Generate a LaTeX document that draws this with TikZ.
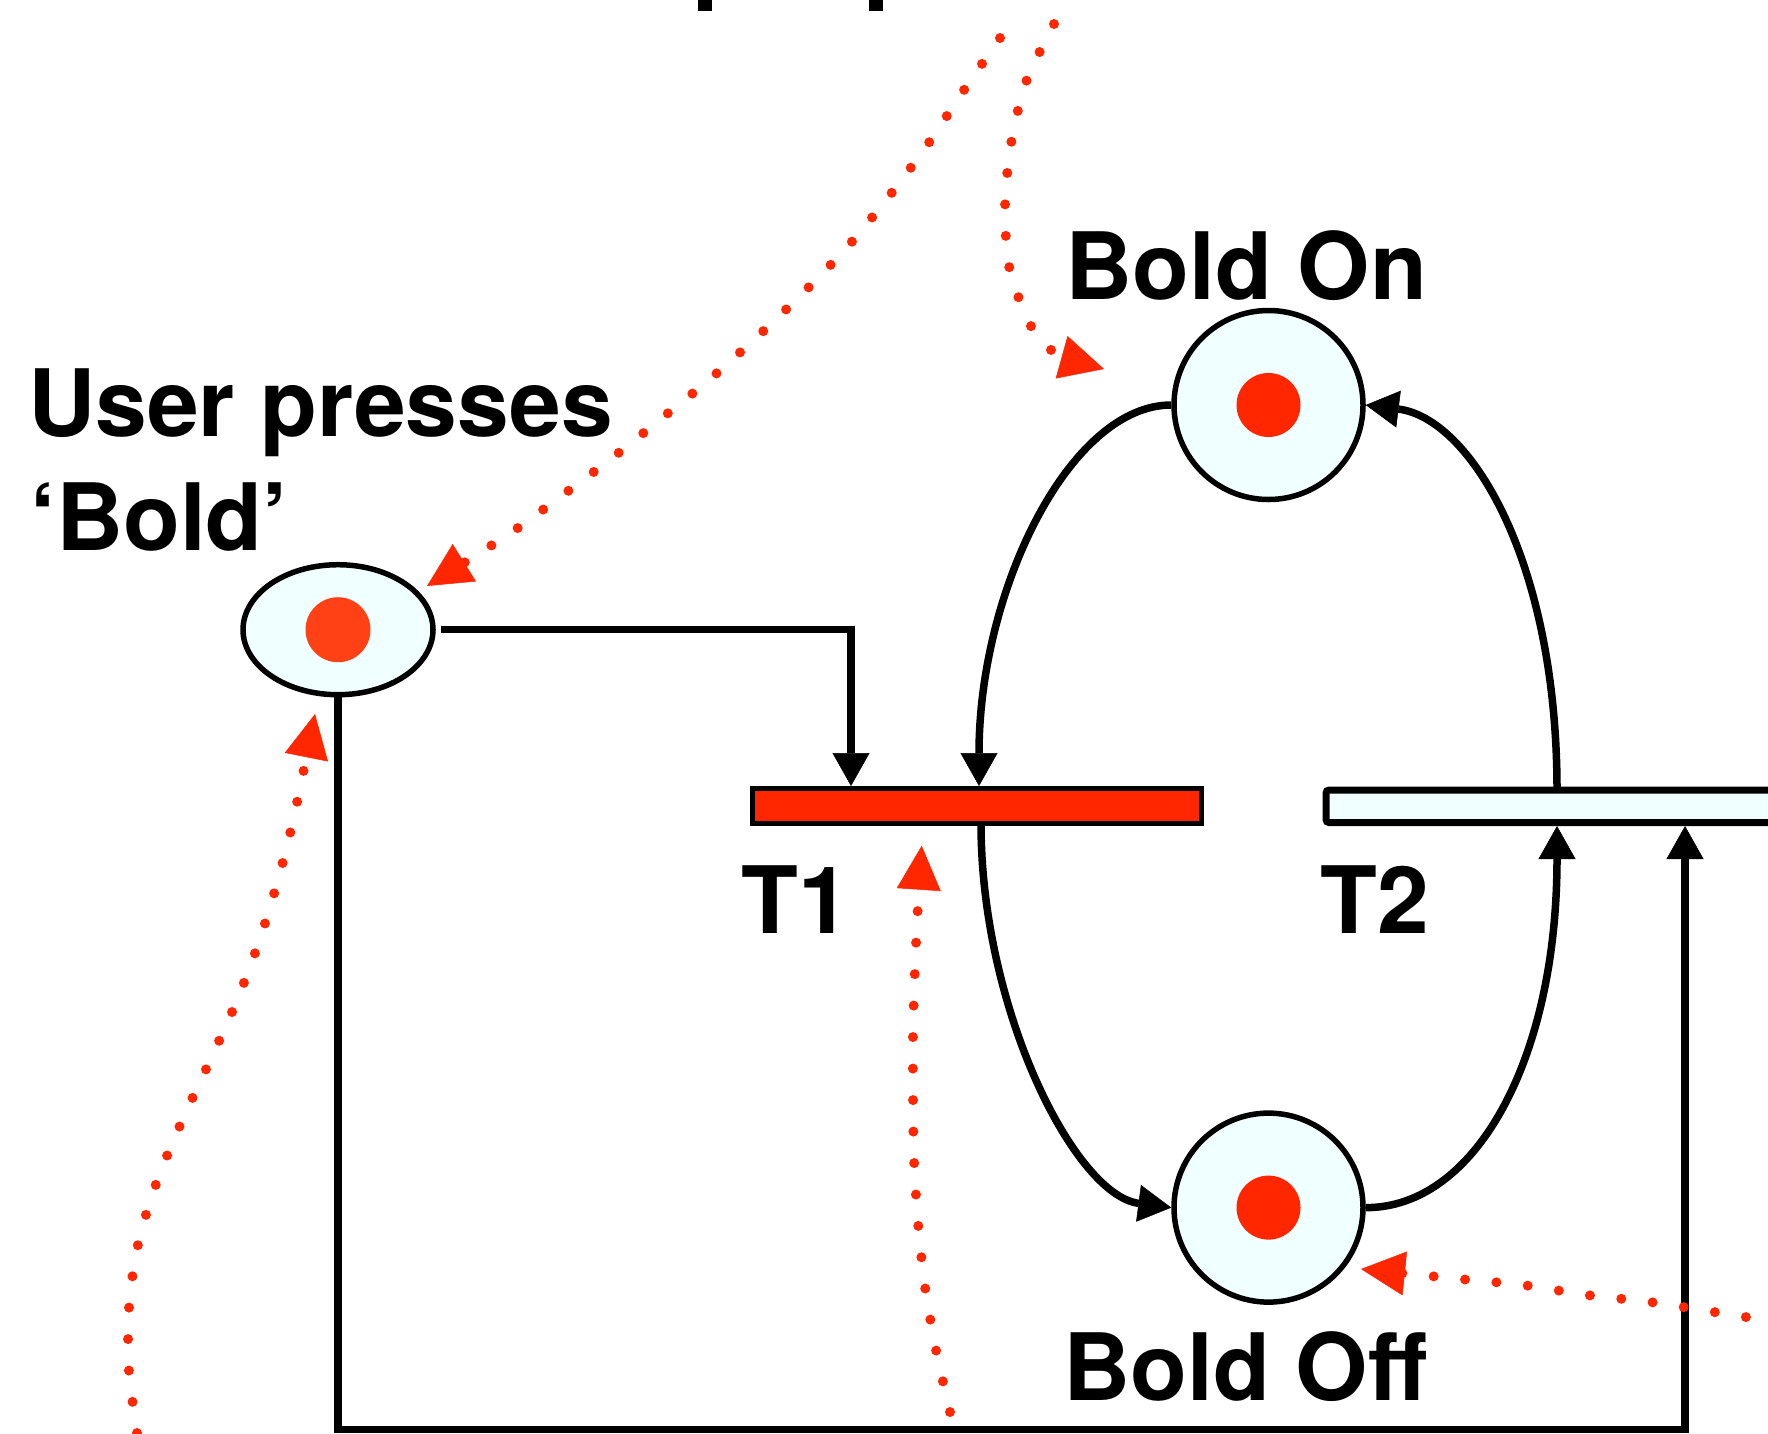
\documentclass[tikz,border=0pt]{standalone}
\usepackage{fontspec}
\setmainfont{TeX Gyre Heros}
\usetikzlibrary{arrows.meta,shapes.geometric}
\definecolor{pnred}{HTML}{FF2600}
\definecolor{pnorange}{HTML}{FF4115}
\definecolor{pnfill}{HTML}{F0FFFF}
\begin{document}
\begin{tikzpicture}[x=1pt,y=-1pt,
  place/.style={circle, draw, line width=5.5pt, fill=pnfill, minimum size=189pt, inner sep=0pt},
  tok/.style={circle, fill=pnred, minimum size=64pt, inner sep=0pt},
  lbl/.style={font=\fontsize{93}{100}\selectfont\bfseries, inner sep=0pt, anchor=base west},
  conn/.style={line width=7.5pt, -{Triangle[length=33pt,width=37pt,line width=0.5pt]}},
  dotline/.style={pnred, line width=10pt, line cap=round, dash pattern=on 0pt off 31.5pt,
    -{Triangle[length=44pt,width=44pt,line width=0.5pt]}},
]
\useasboundingbox (0,0) rectangle (1768,1433);

% places
\node[place] (bon) at (1268.5,405) {};
\node[tok] (bonTok) at (bon.center) {};
\node[place] (boff) at (1268.5,1207.6) {};
\node[tok] (boffTok) at (boff.center) {};
\node[ellipse, draw, line width=5.5pt, fill=pnfill, minimum width=190pt, minimum height=130pt, inner sep=0pt] (usr) at (338,629.7) {};
\node[circle, fill=pnorange, minimum size=65pt, inner sep=0pt] (usrTok) at (usr.center) {};

% transitions
\node[rectangle, draw, line width=5pt, fill=pnred, minimum width=449pt, minimum height=35pt, inner sep=0pt] (T1) at (977,806) {};
\node[rectangle, draw, line width=7pt, fill=pnfill, rounded corners=3pt, minimum width=484pt, minimum height=32.5pt, inner sep=0pt] (T2) at (1568,806.25) {};

% labels
\node[lbl] (lBon) at (1065,299) {Bold On};
\node[lbl] (lBoff) at (1063,1400) {Bold Off};
\node[lbl] (lT1) at (741,933) {T1};
\node[lbl] (lT2) at (1320,933) {T2};
\node[lbl] (lU1) at (28,436) {User presses};
\node[lbl] (lU2) at (30,550) {‘Bold’};

% cut-off glyph pieces at the top edge
\fill (698,0) rectangle (712,11);
\fill (869,0) rectangle (883,11);

% connector points
\coordinate (t1inA) at (851,786);
\coordinate (t1inB) at (979,786);
\coordinate (t1out) at (981,823.5);
\coordinate (t2inA) at (1557,826);
\coordinate (t2inB) at (1685,826);
\coordinate (t2out) at (1557,790);
\coordinate (cornerA) at (851,629.7);
\coordinate (cornerB) at (338,1429.5);
\coordinate (cornerC) at (1685,1429.5);

% black arcs
\draw[conn] ([xshift=5pt]usr.east) -- (cornerA) -- (t1inA);
\draw[conn] (usr.south) -- (cornerB) -- (cornerC) -- (t2inB);
\draw[conn] (bon.west) .. controls (1070,405) and (979,590) .. (t1inB);
\draw[conn] (t1out) .. controls (981,1010) and (1075,1195) .. (boff.west);
\draw[conn] (boff.east) .. controls (1475,1208) and (1557,1060) .. (t2inA);
\draw[conn] (t2out) .. controls (1557,560) and (1470,418) .. (bon.east);

% red dotted arrows
\coordinate (tipUsrTop) at (427,586);
\coordinate (tipBon) at (1104,369);
\coordinate (tipUsrBot) at (315,714);
\coordinate (tipT1) at (921.7,845.7);
\coordinate (tipBoff) at (1361,1269);
\draw[dotline] plot[smooth] coordinates {(1000,38) (964,90) (928,144) (890,195) (849,245) (805,291) (758,336) (710,379) (662,418) (612,458) (560,497) (509,534) (tipUsrTop)};
\draw[dotline] plot[smooth] coordinates {(1054,24) (1026,82) (1011,144) (1005,207) (1010,271) (1033,330) (1056,353) (tipBon)};
\draw[dotline] plot[smooth] coordinates {(137,1433) (128.7,1368) (129.3,1303) (139,1240) (158,1178.5) (183,1118.6) (210.3,1060) (236.7,1001) (259.3,940.8) (278.3,878.8) (294,816.4) (tipUsrBot)};
\draw[dotline] plot[smooth] coordinates {(950,1412) (936,1350) (925,1287) (918,1223) (914,1159) (913,1095) (913,1031) (915,967) (918,904) (tipT1)};
\draw[dotline] plot[smooth] coordinates {(1777,1322) (1714,1312) (1650,1302) (1587,1295) (1523,1285) (1460,1279) (tipBoff)};
\end{tikzpicture}
\end{document}
